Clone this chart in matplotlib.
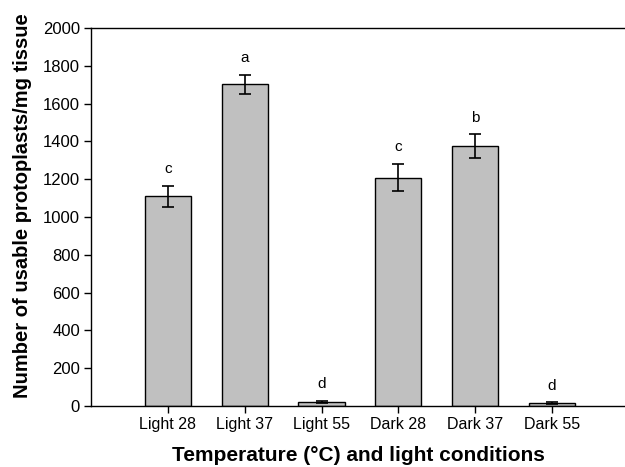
import numpy as np
import matplotlib.pyplot as plt

plt.rcParams['font.family'] = ['Liberation Sans', 'DejaVu Sans']

categories = ['Light 28', 'Light 37', 'Light 55', 'Dark 28', 'Dark 37', 'Dark 55']
means = [1110, 1702, 22, 1208, 1376, 15]
errors = [55, 52, 6, 72, 62, 5]
letters = ['c', 'a', 'd', 'c', 'b', 'd']

fig = plt.figure(figsize=(6.25, 4.67), dpi=100)
ax = fig.add_axes([0.1456, 0.1306, 0.8544, 0.8094])

x = np.arange(1, len(categories) + 1)
ax.bar(x, means, width=0.6, color='#c0c0c0', edgecolor='black', linewidth=1.0, zorder=2)
ax.errorbar(x, means, yerr=errors, fmt='none', ecolor='black', elinewidth=1.2,
            capsize=4, capthick=1.2, zorder=3)

for xi, m, e, lab in zip(x, means, errors, letters):
    ax.annotate(lab, (xi, m + e), xytext=(0, 12), textcoords='offset points',
                ha='center', va='center', fontsize=11)

ax.set_xlim(0, 6.95)
ax.set_ylim(0, 2000)
ax.set_yticks(np.arange(0, 2001, 200))
ax.set_xticks(x)
ax.set_xticklabels(categories)
ax.tick_params(axis='both', direction='out', length=5, width=1, pad=3)
ax.tick_params(axis='y', labelsize=12)
ax.tick_params(axis='x', labelsize=11.5)
ax.spines['right'].set_visible(False)
for s in ['left', 'bottom', 'top']:
    ax.spines[s].set_linewidth(1.0)

ax.set_ylabel('Number of usable protoplasts/mg tissue', fontsize=14.5, fontweight='bold')
ax.yaxis.set_label_coords(-0.11, 0.53)
ax.set_xlabel('Temperature (°C) and light conditions', fontsize=15, fontweight='bold', labelpad=10)

fig.savefig('out.png', dpi=100)
